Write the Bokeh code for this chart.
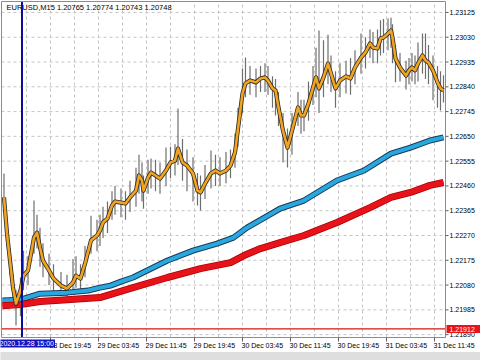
import pandas as pd
from bokeh.plotting import figure
from bokeh.models import Range1d, Label, BoxAnnotation
from bokeh.core.properties import value
from bokeh.embed import file_html
from bokeh.resources import INLINE

symbol_text = "EURUSD,M15  1.20765 1.20774 1.20743 1.20748"

close_times = [
    "2020-12-28 12:00", "2020-12-28 12:30", "2020-12-28 13:00", "2020-12-28 13:30", "2020-12-28 14:00",
    "2020-12-28 14:45", "2020-12-28 15:15", "2020-12-28 16:00", "2020-12-28 17:00", "2020-12-28 17:30",
    "2020-12-28 18:00", "2020-12-28 18:30", "2020-12-28 19:30", "2020-12-28 20:15", "2020-12-28 21:30",
    "2020-12-28 22:30", "2020-12-28 23:30",
    "2020-12-29 00:00", "2020-12-29 00:45", "2020-12-29 01:30", "2020-12-29 02:30", "2020-12-29 03:30",
    "2020-12-29 04:00", "2020-12-29 04:30", "2020-12-29 05:15", "2020-12-29 06:00", "2020-12-29 06:30",
    "2020-12-29 07:30", "2020-12-29 08:15", "2020-12-29 09:00", "2020-12-29 10:00", "2020-12-29 10:30",
    "2020-12-29 11:00", "2020-12-29 11:15", "2020-12-29 12:00", "2020-12-29 12:30", "2020-12-29 13:15",
    "2020-12-29 14:00", "2020-12-29 15:00", "2020-12-29 15:45", "2020-12-29 16:30", "2020-12-29 17:00",
    "2020-12-29 17:45", "2020-12-29 18:30", "2020-12-29 19:30", "2020-12-29 20:15", "2020-12-29 20:45",
    "2020-12-29 21:30", "2020-12-29 22:30", "2020-12-29 23:15",
    "2020-12-30 00:00", "2020-12-30 01:00", "2020-12-30 01:45", "2020-12-30 02:30", "2020-12-30 03:00",
    "2020-12-30 03:45", "2020-12-30 04:15", "2020-12-30 05:00", "2020-12-30 06:00", "2020-12-30 06:45",
    "2020-12-30 07:30", "2020-12-30 08:00", "2020-12-30 08:45", "2020-12-30 09:15", "2020-12-30 09:45",
    "2020-12-30 10:30", "2020-12-30 11:15", "2020-12-30 12:00", "2020-12-30 13:00", "2020-12-30 13:30",
    "2020-12-30 14:00", "2020-12-30 14:45", "2020-12-30 15:30", "2020-12-30 16:00", "2020-12-30 16:30",
    "2020-12-30 17:15", "2020-12-30 18:00", "2020-12-30 18:30", "2020-12-30 19:15", "2020-12-30 20:00",
    "2020-12-30 21:00", "2020-12-30 21:45", "2020-12-30 22:30", "2020-12-30 23:30",
    "2020-12-31 00:15", "2020-12-31 01:00", "2020-12-31 01:30", "2020-12-31 02:15", "2020-12-31 02:45",
    "2020-12-31 03:15", "2020-12-31 04:00", "2020-12-31 04:30", "2020-12-31 04:45", "2020-12-31 05:15",
    "2020-12-31 06:00", "2020-12-31 07:00", "2020-12-31 07:30", "2020-12-31 08:00", "2020-12-31 08:30",
    "2020-12-31 09:00", "2020-12-31 09:45", "2020-12-31 10:15", "2020-12-31 10:45", "2020-12-31 11:30",
    "2020-12-31 12:15", "2020-12-31 12:45", "2020-12-31 13:15",
]

close_prices = [
    1.22416, 1.22277, 1.22174, 1.22070, 1.22009, 1.22059, 1.22116, 1.22136, 1.22262, 1.22281,
    1.22224, 1.22174, 1.22136, 1.22105, 1.22078, 1.22067, 1.22090,
    1.22116, 1.22105, 1.22162, 1.22251, 1.22270, 1.22289, 1.22320, 1.22335, 1.22385, 1.22400,
    1.22396, 1.22393, 1.22416, 1.22442, 1.22500, 1.22481, 1.22442, 1.22492, 1.22511, 1.22500,
    1.22488, 1.22519, 1.22550, 1.22557, 1.22603, 1.22550, 1.22538, 1.22508, 1.22442, 1.22435,
    1.22469, 1.22508, 1.22519,
    1.22508, 1.22519, 1.22538, 1.22588, 1.22680, 1.22814, 1.22853, 1.22864, 1.22857, 1.22872,
    1.22876, 1.22864, 1.22834, 1.22826, 1.22761, 1.22672, 1.22607, 1.22672, 1.22761, 1.22730,
    1.22730, 1.22776, 1.22837, 1.22876, 1.22834, 1.22876, 1.22929, 1.22891, 1.22834, 1.22864,
    1.22880, 1.22872, 1.22914, 1.22952,
    1.22972, 1.23006, 1.22991, 1.22987, 1.23025, 1.23029, 1.23044, 1.23056, 1.23029, 1.22949,
    1.22914, 1.22883, 1.22903, 1.22914, 1.22903, 1.22929, 1.22960, 1.22941, 1.22933, 1.22903,
    1.22857, 1.22834, 1.22826,
]

high_prices = [
    1.22508, 1.22330, 1.22220, 1.22120, 1.22060, 1.22110, 1.22212, 1.22190, 1.22404, 1.22350,
    1.22300, 1.22240, 1.22200, 1.22160, 1.22130, 1.22120, 1.22180,
    1.22190, 1.22160, 1.22230, 1.22346, 1.22330, 1.22350, 1.22380, 1.22400, 1.22440, 1.22460,
    1.22450, 1.22440, 1.22480, 1.22530, 1.22580, 1.22550, 1.22500, 1.22560, 1.22565, 1.22560,
    1.22550, 1.22607, 1.22610, 1.22620, 1.22757, 1.22640, 1.22600, 1.22570, 1.22510, 1.22500,
    1.22540, 1.22596, 1.22580,
    1.22570, 1.22590, 1.22600, 1.22660, 1.22760, 1.22910, 1.22952, 1.22920, 1.22910, 1.22920,
    1.22930, 1.22920, 1.22880, 1.22870, 1.22820, 1.22740, 1.22680, 1.22740, 1.22820, 1.22790,
    1.22790, 1.22860, 1.22920, 1.22990, 1.23056, 1.23018, 1.23040, 1.22960, 1.22900, 1.22930,
    1.22940, 1.22950, 1.22980, 1.23044,
    1.23030, 1.23060, 1.23050, 1.23060, 1.23095, 1.23100, 1.23102, 1.23105, 1.23080, 1.23000,
    1.22970, 1.22940, 1.22950, 1.22970, 1.22960, 1.23010, 1.23044, 1.23044, 1.23000, 1.22960,
    1.22920, 1.22900, 1.22884,
]

low_prices = [
    1.22380, 1.22230, 1.22120, 1.22000, 1.21925, 1.21960, 1.22060, 1.22080, 1.22200, 1.22220,
    1.22150, 1.22110, 1.22080, 1.22055, 1.22045, 1.22035, 1.22050,
    1.22070, 1.22060, 1.22110, 1.22200, 1.22210, 1.22230, 1.22260, 1.22280, 1.22330, 1.22350,
    1.22340, 1.22330, 1.22360, 1.22380, 1.22430, 1.22400, 1.22373, 1.22430, 1.22450, 1.22440,
    1.22430, 1.22460, 1.22490, 1.22500, 1.22540, 1.22480, 1.22440, 1.22400, 1.22385, 1.22366,
    1.22410, 1.22450, 1.22460,
    1.22460, 1.22470, 1.22490, 1.22530, 1.22610, 1.22740, 1.22800, 1.22810, 1.22800, 1.22820,
    1.22820, 1.22810, 1.22760, 1.22730, 1.22690, 1.22550, 1.22531, 1.22580, 1.22690, 1.22660,
    1.22670, 1.22710, 1.22770, 1.22800, 1.22740, 1.22800, 1.22850, 1.22820, 1.22760, 1.22800,
    1.22814, 1.22810, 1.22850, 1.22890,
    1.22910, 1.22950, 1.22930, 1.22930, 1.22960, 1.22970, 1.22980, 1.22990, 1.22930, 1.22857,
    1.22860, 1.22830, 1.22850, 1.22860, 1.22850, 1.22860, 1.22890, 1.22870, 1.22850, 1.22788,
    1.22760, 1.22749, 1.22780,
]

ma_blue_times = [
    "2020-12-28 11:45", "2020-12-28 14:45", "2020-12-28 18:00", "2020-12-28 22:30", "2020-12-29 02:00",
    "2020-12-29 04:00", "2020-12-29 05:45", "2020-12-29 07:30", "2020-12-29 09:30", "2020-12-29 15:15",
    "2020-12-29 19:30", "2020-12-29 23:30", "2020-12-30 02:15", "2020-12-30 04:30", "2020-12-30 08:00",
    "2020-12-30 10:00", "2020-12-30 14:00", "2020-12-30 19:30", "2020-12-31 00:00", "2020-12-31 04:30",
    "2020-12-31 07:45", "2020-12-31 11:00", "2020-12-31 13:15",
]
ma_blue_values = [
    1.22021, 1.22024, 1.22047, 1.22051, 1.22059, 1.22070, 1.22078, 1.22093, 1.22109, 1.22174,
    1.22212, 1.22239, 1.22262, 1.22300, 1.22346, 1.22373, 1.22404, 1.22481, 1.22519, 1.22584,
    1.22607, 1.22634, 1.22646,
]

ma_red_times = [
    "2020-12-28 11:45", "2020-12-28 14:45", "2020-12-28 18:00", "2020-12-28 22:30", "2020-12-29 04:00",
    "2020-12-29 09:30", "2020-12-29 15:15", "2020-12-29 20:45", "2020-12-30 01:45", "2020-12-30 04:00",
    "2020-12-30 06:45", "2020-12-30 10:00", "2020-12-30 14:00", "2020-12-30 19:30", "2020-12-31 01:00",
    "2020-12-31 04:30", "2020-12-31 07:45", "2020-12-31 11:00", "2020-12-31 13:15",
]
ma_red_values = [
    1.22001, 1.22005, 1.22017, 1.22024, 1.22032, 1.22070, 1.22109, 1.22143, 1.22166, 1.22193,
    1.22220, 1.22243, 1.22270, 1.22320, 1.22377, 1.22416, 1.22435, 1.22462, 1.22473,
]

price_ticks = [1.23125, 1.23030, 1.22935, 1.22840, 1.22745, 1.22650, 1.22555,
               1.22460, 1.22365, 1.22270, 1.22175, 1.22080, 1.21985, 1.21890]
price_tick_labels = ["1.23125", "1.23030", "1.22935", "1.22840", "1.22745", "1.22650", "1.22555",
                     "1.22460", "1.22365", "1.22270", "1.22175", "1.22080", "1.21985", "1.21890"]

time_tick_times = ["2020-12-28 19:45", "2020-12-29 03:45", "2020-12-29 11:45", "2020-12-29 19:45",
                   "2020-12-30 03:45", "2020-12-30 11:45", "2020-12-30 19:45", "2020-12-31 03:45",
                   "2020-12-31 11:45"]
time_tick_labels = ["28 Dec 19:45", "29 Dec 03:45", "29 Dec 11:45", "29 Dec 19:45",
                    "30 Dec 03:45", "30 Dec 11:45", "30 Dec 19:45", "31 Dec 03:45",
                    "31 Dec 11:45"]
grid_times = ["2020-12-28 15:45", "2020-12-28 19:45", "2020-12-28 23:45", "2020-12-29 03:45",
              "2020-12-29 07:45", "2020-12-29 11:45", "2020-12-29 15:45", "2020-12-29 19:45",
              "2020-12-29 23:45", "2020-12-30 03:45", "2020-12-30 07:45", "2020-12-30 11:45",
              "2020-12-30 15:45", "2020-12-30 19:45", "2020-12-30 23:45", "2020-12-31 03:45",
              "2020-12-31 07:45", "2020-12-31 11:45"]

level_price = 1.21912
level_label = "1.21912"
marker_time = "2020-12-28 15:00"
marker_label = "2020.12.28 15:00"

chart_start = "2020-12-28 11:35"
chart_end = "2020-12-31 13:35"
price_top, price_bottom = 1.23167, 1.21879


def ms(s):
    return int(pd.Timestamp(s).value // 10**6)


FONT = value("Liberation Sans")
GRID = "#c4c4c4"
FRAME = "#8c8c8c"

# one screen pixel in data units (chart area is 444 x 336 px)
PX_X = (ms(chart_end) - ms(chart_start)) / 444.0
PX_Y = (price_top - price_bottom) / 336.0

L, R = ms(chart_start), ms(chart_end)
T, B = price_top, price_bottom

p = figure(width=480, height=360, x_axis_type=None, y_axis_type=None,
           x_range=Range1d(L - 1 * PX_X, R + 35 * PX_X),
           y_range=Range1d(B - 23 * PX_Y, T + 1 * PX_Y),
           output_backend="svg", toolbar_location=None,
           min_border=0, outline_line_color=None,
           background_fill_color="white", border_fill_color="white")

# bottom tab strip of the terminal
p.add_layout(BoxAnnotation(top=B - 15 * PX_Y, fill_color="#dedede", fill_alpha=1.0,
                           line_color="#b4b4b4", line_width=1, level="underlay"))

# grid
gx = [ms(t) for t in grid_times]
p.segment(x0=gx, x1=gx, y0=[B] * len(gx), y1=[T] * len(gx),
          line_color=GRID, line_width=1, line_dash="3 3")
p.segment(x0=[L] * len(price_ticks), x1=[R] * len(price_ticks), y0=price_ticks, y1=price_ticks,
          line_color=GRID, line_width=1, line_dash="3 3")

# header
p.text(x=[L + 5 * PX_X], y=[T - 1 * PX_Y], text=[symbol_text], text_align="left",
       text_baseline="top", text_font=FONT, text_font_size="7.5px", text_color="black")

xs = [ms(t) for t in close_times]

# bars (high-low)
p.segment(x0=xs, y0=low_prices, x1=xs, y1=high_prices, line_color="#6e6e6e", line_width=1.2)

# moving averages
bx = [ms(t) for t in ma_blue_times]
rx = [ms(t) for t in ma_red_times]
p.line(bx, ma_blue_values, line_color="#1b3a5a", line_width=6, line_join="round")
p.line(bx, ma_blue_values, line_color="#27a9df", line_width=4, line_join="round")
p.line(rx, ma_red_values, line_color="#a80000", line_width=7, line_join="round")
p.line(rx, ma_red_values, line_color="#e8121a", line_width=5.5, line_join="round")

# smoothed price
p.line(xs, close_prices, line_color="#2a2a2a", line_width=4.2, line_join="round")
p.line(xs, close_prices, line_color="#f3a41e", line_width=2.6, line_join="round")

# price level line
p.segment(x0=[L], x1=[R], y0=[level_price], y1=[level_price], line_color="#d41414", line_width=1.3)

# vertical marker line
mx = ms(marker_time)
p.segment(x0=[mx], x1=[mx], y0=[B], y1=[T], line_color="#0c0ca0", line_width=2)

# chart frame
p.segment(x0=[L, L, R, L], x1=[L, R, R, R], y0=[B, T, B, B], y1=[T, T, T, B],
          line_color=FRAME, line_width=1)

# price scale (right)
p.segment(x0=[R] * len(price_ticks), x1=[R + 3 * PX_X] * len(price_ticks),
          y0=price_ticks, y1=price_ticks, line_color="#606060", line_width=1)
p.text(x=[R + 4 * PX_X] * len(price_ticks), y=price_ticks, text=price_tick_labels,
       text_align="left", text_baseline="middle", text_font=FONT, text_font_size="7px",
       text_color="black")

# time scale (bottom), labels start at their tick like the terminal
tx = [ms(t) for t in time_tick_times]
p.segment(x0=tx, x1=tx, y0=[B] * len(tx), y1=[B - 4 * PX_Y] * len(tx),
          line_color="#606060", line_width=1)
p.text(x=[t - 1 * PX_X for t in tx], y=[B - 4 * PX_Y] * len(tx), text=time_tick_labels,
       text_align="left", text_baseline="top", text_font=FONT, text_font_size="7px",
       text_color="black")

# level label on the price scale
p.add_layout(Label(x=R + 1 * PX_X, y=level_price, text=level_label,
                   text_align="left", text_baseline="middle", text_font="Liberation Sans",
                   text_font_size="7px", text_color="white",
                   background_fill_color="#e8141c",
                   padding=dict(left=3, right=7, top=2, bottom=1)))

# marker label on the time scale
p.add_layout(Label(x=L - 3 * PX_X, y=B - 2 * PX_Y, text=marker_label,
                   text_align="left", text_baseline="top", text_font="Liberation Sans",
                   text_font_size="7px", text_color="white",
                   background_fill_color="#1414c0",
                   padding=dict(left=1, right=1, top=0, bottom=1)))

open("out.html", "w").write(file_html(p, INLINE))
